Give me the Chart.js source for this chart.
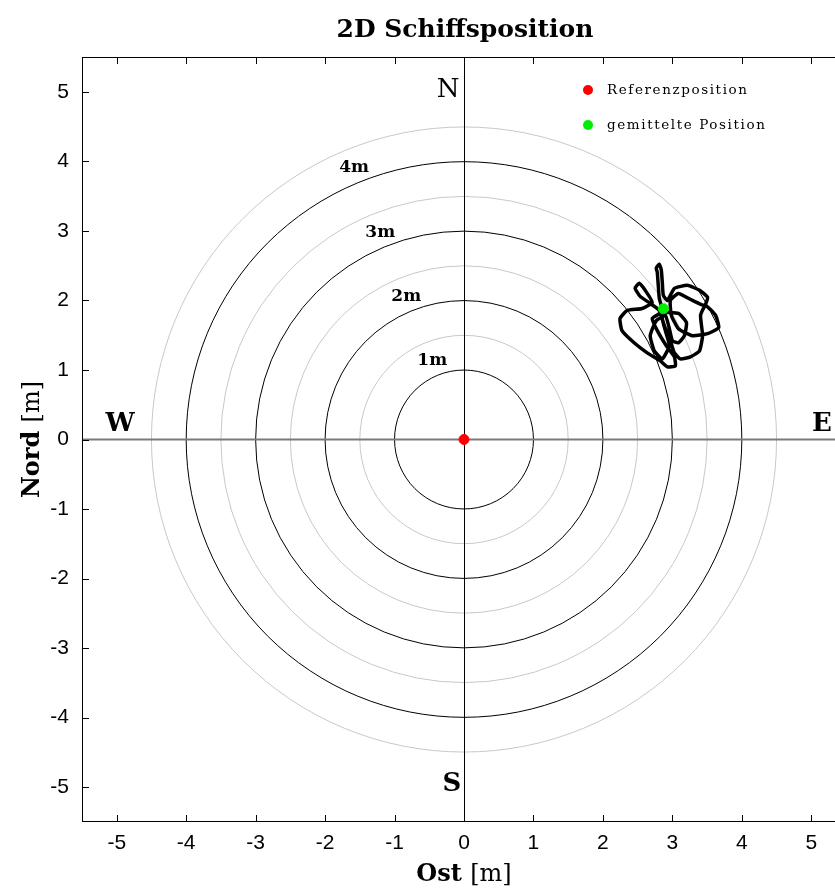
<!DOCTYPE html>
<html>
<head>
<meta charset="utf-8">
<script src="https://cdn.jsdelivr.net/npm/chart.js@4.4.1/dist/chart.umd.min.js"></script>
<style>
  html, body { margin: 0; padding: 0; background: #fff; overflow: hidden; }
  #wrap { width: 852px; height: 889px; }
</style>
</head>
<body>
<div id="wrap"><canvas id="pos" width="852" height="889"></canvas></div>
<script>
// Achsen / Ringe
const tickValues = [-5, -4, -3, -2, -1, 0, 1, 2, 3, 4, 5];
const ringRadii = [1, 2, 3, 4];
const halfRings = [1.5, 2.5, 3.5, 4.5];
const ringLabels = ["1m", "2m", "3m", "4m"];

// Schiffsspur (Ost, Nord) in m
const trackEast = [
  2.855, 2.812, 2.797, 2.783, 2.768, 2.812, 2.841, 2.855, 2.870, 2.928,
  3.029, 3.217, 3.391, 3.507, 3.464, 3.290, 3.087, 2.971, 2.986, 3.087,
  3.290, 3.507, 3.667, 3.623, 3.478, 3.406, 3.435, 3.391, 3.261, 3.116,
  3.029, 2.971, 2.884, 2.812, 2.681, 2.536, 2.464, 2.522, 2.609, 2.710,
  2.565, 2.348, 2.246, 2.275, 2.449, 2.638, 2.826, 2.928, 3.043, 3.029,
  2.913, 2.783, 2.710, 2.855, 3.087, 3.203, 3.174, 3.087, 3.000, 2.957,
  2.899, 2.768, 2.681, 2.739, 2.855, 2.957, 2.899, 2.855, 2.884,
];
const trackNorth = [
  1.884, 2.029, 2.217, 2.406, 2.464, 2.522, 2.435, 2.261, 2.072, 2.000,
  2.174, 2.217, 2.145, 2.043, 1.928, 2.000, 2.101, 2.000, 1.783, 1.594,
  1.493, 1.522, 1.609, 1.783, 1.928, 1.783, 1.493, 1.275, 1.188, 1.159,
  1.246, 1.420, 1.638, 1.855, 1.957, 2.058, 2.174, 2.246, 2.145, 1.971,
  1.884, 1.855, 1.739, 1.565, 1.391, 1.246, 1.130, 1.043, 1.058, 1.188,
  1.348, 1.565, 1.739, 1.826, 1.812, 1.681, 1.493, 1.391, 1.420, 1.594,
  1.783, 1.710, 1.493, 1.275, 1.159, 1.348, 1.565, 1.739, 1.884,
];
const referencePos = [0, 0];
const meanPos = [2.87, 1.88];

const SERIF = "'DejaVu Serif', 'Liberation Serif', serif";
const SANS = "'Liberation Sans Narrow', 'Liberation Sans', Arial, sans-serif";

// Ringe, Achsenkreuz, Rahmen, innere Ticks
const compassPlugin = {
  id: "compass",
  beforeDatasetsDraw(chart) {
    const { ctx, chartArea: a, scales } = chart;
    const xs = scales.x, ys = scales.y;
    const cx = xs.getPixelForValue(0), cy = ys.getPixelForValue(0);
    const unit = xs.getPixelForValue(1) - cx;
    ctx.save();
    ctx.beginPath();
    ctx.rect(a.left, a.top, a.right - a.left, a.bottom - a.top);
    ctx.clip();
    ctx.lineWidth = 1;
    ctx.strokeStyle = "#c8c8c8";
    halfRings.forEach((r) => {
      ctx.beginPath();
      ctx.arc(cx, cy, r * unit, 0, Math.PI * 2);
      ctx.stroke();
    });
    ctx.strokeStyle = "#000";
    ringRadii.forEach((r) => {
      ctx.beginPath();
      ctx.arc(cx, cy, r * unit, 0, Math.PI * 2);
      ctx.stroke();
    });
    // Achsenkreuz
    ctx.strokeStyle = "#7a7a7a";
    ctx.lineWidth = 2;
    ctx.beginPath();
    ctx.moveTo(a.left, cy);
    ctx.lineTo(a.right, cy);
    ctx.stroke();
    ctx.strokeStyle = "#000";
    ctx.lineWidth = 1;
    ctx.beginPath();
    ctx.moveTo(Math.round(cx) + 0.5, a.top);
    ctx.lineTo(Math.round(cx) + 0.5, a.bottom);
    ctx.stroke();

    // Ringbeschriftung
    ctx.fillStyle = "#000";
    ctx.font = "bold 17px " + SERIF;
    ctx.textAlign = "center";
    ctx.textBaseline = "middle";
    const ang = (112 * Math.PI) / 180;
    ringRadii.forEach((r, i) => {
      const d = (r + 0.22) * unit;
      ctx.fillText(ringLabels[i], cx + d * Math.cos(ang), cy - d * Math.sin(ang));
    });

    // Himmelsrichtungen
    ctx.font = "26px " + SERIF;
    ctx.fillText("N", cx - 16, a.top + 33);
    ctx.font = "bold 26px " + SERIF;
    ctx.fillText("S", cx - 12, a.bottom - 38);
    ctx.fillText("W", a.left + 38, cy - 15);
    ctx.fillText("E", a.right - 24, cy - 15);
    ctx.restore();

    // Rahmen + Ticks nach innen
    ctx.save();
    ctx.strokeStyle = "#000";
    ctx.lineWidth = 1;
    ctx.strokeRect(a.left + 0.5, a.top + 0.5, a.right - a.left - 1, a.bottom - a.top - 1);
    ctx.beginPath();
    tickValues.forEach((v) => {
      const px = Math.round(xs.getPixelForValue(v)) + 0.5;
      ctx.moveTo(px, a.bottom);
      ctx.lineTo(px, a.bottom - 7);
      ctx.moveTo(px, a.top);
      ctx.lineTo(px, a.top + 7);
      const py = Math.round(ys.getPixelForValue(v)) + 0.5;
      ctx.moveTo(a.left, py);
      ctx.lineTo(a.left + 7, py);
      ctx.moveTo(a.right, py);
      ctx.lineTo(a.right - 7, py);
    });
    ctx.stroke();
    ctx.restore();
  },
  afterDraw(chart) {
    const { ctx, chartArea: a, scales } = chart;
    const cx = scales.x.getPixelForValue(0);
    ctx.save();
    ctx.fillStyle = "#000";
    ctx.textBaseline = "alphabetic";
    // Titel
    ctx.font = "bold 25px " + SERIF;
    ctx.textAlign = "center";
    ctx.fillText("2D Schiffsposition", cx + 1, 37);

    // Achsentitel mit gemischter Schrift
    const mixed = (bold, normal, x, y) => {
      ctx.font = "bold 24px " + SERIF;
      const w1 = ctx.measureText(bold + " ").width;
      ctx.font = "24px " + SERIF;
      const w2 = ctx.measureText(normal).width;
      const x0 = x - (w1 + w2) / 2;
      ctx.textAlign = "left";
      ctx.font = "bold 24px " + SERIF;
      ctx.fillText(bold + " ", x0, y);
      ctx.font = "24px " + SERIF;
      ctx.fillText(normal, x0 + w1, y);
    };
    mixed("Ost", "[m]", cx, 881);
    ctx.save();
    ctx.translate(39, (a.top + a.bottom) / 2);
    ctx.rotate(-Math.PI / 2);
    mixed("Nord", "[m]", 0, 0);
    ctx.restore();

    // Legende
    const items = chart.data.datasets.filter((d) => d.inLegend);
    ctx.font = "13.5px " + SERIF;
    if ("letterSpacing" in ctx) ctx.letterSpacing = "1.6px";
    ctx.textAlign = "left";
    ctx.textBaseline = "middle";
    items.forEach((d, i) => {
      const y = a.top + 33 + i * 35;
      ctx.fillStyle = d.backgroundColor;
      ctx.beginPath();
      ctx.arc(588, y, 5, 0, Math.PI * 2);
      ctx.fill();
      ctx.fillStyle = "#000";
      ctx.fillText(d.label, 607, y);
    });
    ctx.restore();
  },
};

const trackData = trackEast.map((x, i) => ({ x: x, y: trackNorth[i] }));

new Chart(document.getElementById("pos"), {
  type: "scatter",
  data: {
    datasets: [
      {
        label: "Referenzposition",
        inLegend: true,
        data: [{ x: referencePos[0], y: referencePos[1] }],
        backgroundColor: "#ff0000",
        borderColor: "#ff0000",
        pointRadius: 5,
        order: 0,
      },
      {
        label: "gemittelte Position",
        inLegend: true,
        data: [{ x: meanPos[0], y: meanPos[1] }],
        backgroundColor: "#00ee00",
        borderColor: "#00ee00",
        pointRadius: 5,
        order: 1,
      },
      {
        label: "Spur",
        data: trackData,
        showLine: true,
        borderColor: "#000",
        backgroundColor: "#000",
        borderWidth: 3.5,
        pointRadius: 0,
        tension: 0.15,
        order: 2,
      },
    ],
  },
  options: {
    responsive: false,
    animation: false,
    layout: { padding: { top: 57, right: 2, left: 0, bottom: 0 } },
    plugins: {
      legend: { display: false },
      tooltip: { enabled: false },
      title: { display: false },
    },
    scales: {
      x: {
        type: "linear",
        min: -5.5,
        max: 5.5,
        afterBuildTicks: (s) => { s.ticks = tickValues.map((v) => ({ value: v })); },
        afterFit: (s) => { s.height = 67; },
        grid: { display: false, drawTicks: false },
        border: { display: false },
        ticks: {
          color: "#000",
          padding: 9,
          font: { family: SANS, size: 21 },
          callback: (v) => String(v),
        },
      },
      y: {
        type: "linear",
        min: -5.5,
        max: 5.5,
        afterBuildTicks: (s) => { s.ticks = tickValues.map((v) => ({ value: v })); },
        afterFit: (s) => { s.width = 82; },
        grid: { display: false, drawTicks: false },
        border: { display: false },
        ticks: {
          color: "#000",
          padding: 13,
          font: { family: SANS, size: 21 },
          callback: (v) => String(v),
        },
      },
    },
  },
  plugins: [compassPlugin],
});
</script>
</body>
</html>
